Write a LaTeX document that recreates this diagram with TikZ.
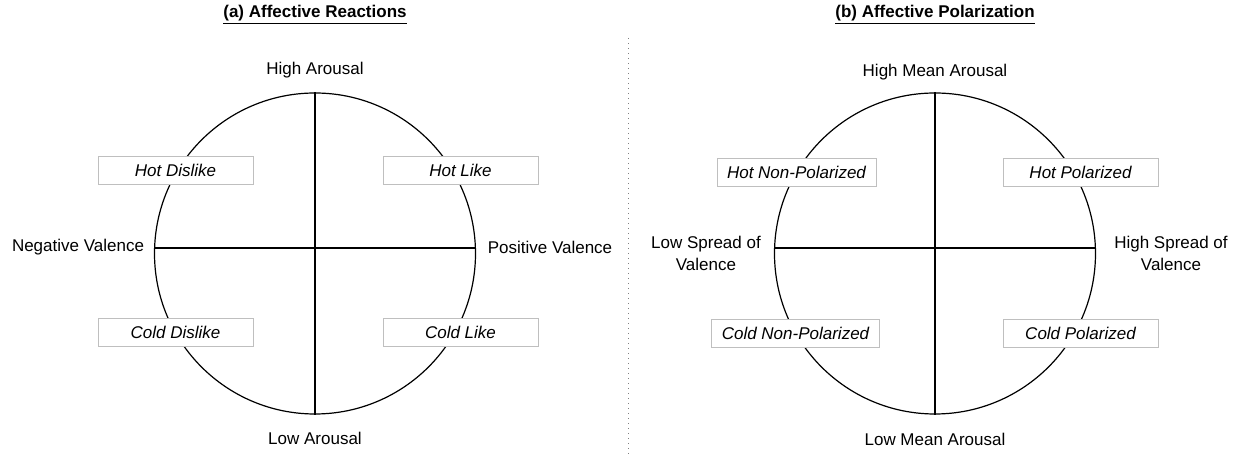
\documentclass[tikz,border=0pt]{standalone}
\usepackage{fontspec}
\setmainfont{Liberation Sans}
\begin{document}
\begin{tikzpicture}[x=0.5pt,y=-0.5pt,font=\fontsize{8.5}{11}\selectfont,quad/.style={shape=rectangle,draw=black!25,fill=white,line width=0.4pt,minimum width=77.5pt,minimum height=14pt,inner xsep=5pt,font=\fontsize{8.5}{11}\selectfont\itshape},axis/.style={align=center},title/.style={font=\fontsize{8.5}{11}\selectfont\bfseries},ring/.style={line width=0.6pt},cross/.style={line width=1.1pt}]
\def\r{160.5};
\def\ya{248};
\def\xa{315};
\def\xb{935};

\useasboundingbox (0,0) rectangle (1239,458);

% separator
\draw[gray,dotted,line width=0.5pt] (628,38) -- (628,458);

% (a)
\node[title] (ta) at (\xa,15) {\underline{(a) Affective Reactions}};
\node[ring,draw,circle,minimum size=2*\r*0.5pt,inner sep=0pt] (ca) at (\xa,253.5) {};
\coordinate (aN) at (ca.north);
\coordinate (aS) at (ca.south);
\coordinate (aW) at (\xa-\r,\ya);
\coordinate (aE) at (\xa+\r,\ya);
\draw[cross] (aN) -- (aS);
\draw[cross] (aW) -- (aE);
\node[axis] (aHi) at (\xa,70) {High Arousal};
\node[axis] (aLo) at (\xa,438) {Low Arousal};
\node[axis] (aNeg) at (78,247) {Negative Valence};
\node[axis] (aPos) at (550,247) {Positive Valence};
\node[quad] (aHD) at (175.5,170.5) {Hot Dislike};
\node[quad] (aHL) at (460.5,170.5) {Hot Like};
\node[quad] (aCD) at (175.5,332) {Cold Dislike};
\node[quad] (aCL) at (460.5,332) {Cold Like};

% (b)
\node[title] (tb) at (\xb,15) {\underline{(b) Affective Polarization}};
\node[ring,draw,circle,minimum size=2*\r*0.5pt,inner sep=0pt] (cb) at (\xb,253.5) {};
\coordinate (bN) at (cb.north);
\coordinate (bS) at (cb.south);
\coordinate (bW) at (\xb-\r,\ya);
\coordinate (bE) at (\xb+\r,\ya);
\draw[cross] (bN) -- (bS);
\draw[cross] (bW) -- (bE);
\node[axis] (bHi) at (\xb,72) {High Mean Arousal};
\node[axis] (bLo) at (\xb,439) {Low Mean Arousal};
\node[axis] (bLow) at (706,253) {Low Spread of\\Valence};
\node[axis] (bHigh) at (1171,253) {High Spread of\\Valence};
\node[quad] (bHN) at (796.5,172) {Hot Non-Polarized};
\node[quad] (bHP) at (1080.5,172) {Hot Polarized};
\node[quad] (bCN) at (795.5,333) {Cold Non-Polarized};
\node[quad] (bCP) at (1080.5,333) {Cold Polarized};
\end{tikzpicture}
\end{document}
